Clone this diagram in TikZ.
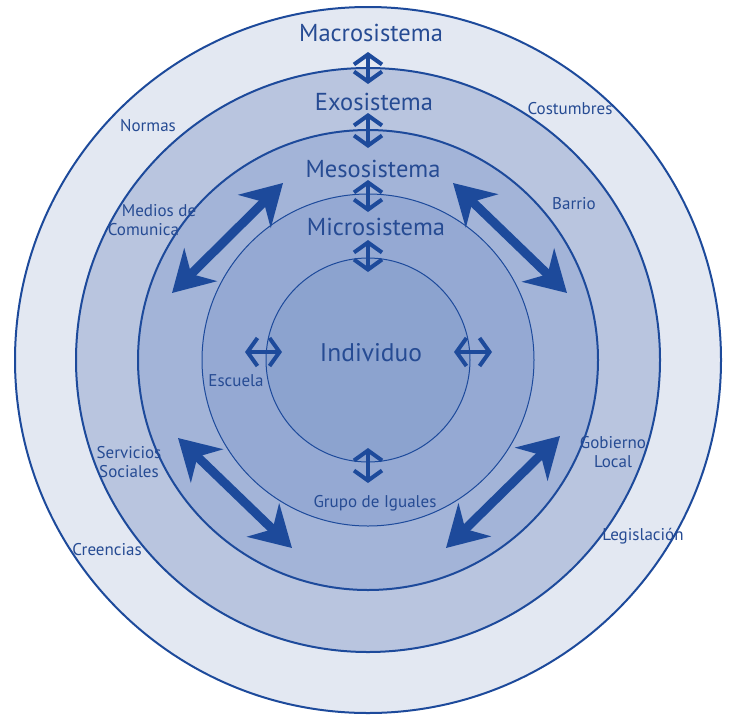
\documentclass[tikz,border=0pt]{standalone}
\usepackage{fontspec}
\setmainfont{PT Sans}
\usetikzlibrary{arrows.meta}
\definecolor{ringline}{HTML}{1D4A9B}
\definecolor{labeltext}{HTML}{264B93}
\definecolor{macroring}{HTML}{E3E8F2}
\definecolor{exoring}{HTML}{B9C5DF}
\definecolor{mesoring}{HTML}{A3B4D8}
\definecolor{microring}{HTML}{95A9D3}
\definecolor{selfring}{HTML}{8CA3CF}
\tikzset{
  biglink/.style={line width=9pt, draw=ringline,
    {Stealth[length=40pt,width=46pt,inset=13pt]}-{Stealth[length=40pt,width=46pt,inset=13pt]}},
  smalllink/.style={line width=4pt, draw=ringline,
    {Straight Barb[length=10pt,width=28pt]}-{Straight Barb[length=10pt,width=28pt]}},
  systemlabel/.style={text=labeltext, inner sep=0pt, font=\fontsize{24.5}{26}\selectfont},
  placelabel/.style={text=labeltext, inner sep=0pt, align=center, font=\fontsize{17}{19.5}\selectfont}
}

\begin{document}
\begin{tikzpicture}[x=1pt, y=-1pt]
  \useasboundingbox (0,0) rectangle (730,715);
  \coordinate (c) at (368,360);

  % rings, outside in
  \foreach \r/\col/\lw in {353/macroring/2pt, 292/exoring/2pt, 230/mesoring/2pt,
                           166/microring/1pt, 102/selfring/1pt}{
    \filldraw[fill=\col, draw=ringline, line width=\lw] (c) circle[radius=\r pt];
  }

  % system names
  \node[systemlabel] (macro) at (371,33) {Macrosistema};
  \node[systemlabel] (exo) at (374,102) {Exosistema};
  \node[systemlabel] (meso) at (373,169) {Mesosistema};
  \node[systemlabel] (micro) at (376,227) {Microsistema};
  \node[systemlabel, font=\fontsize{25.5}{27}\selectfont] (self) at (371,353) {Individuo};

  % places in the rings
  \node[placelabel] (normas) at (148,126) {Normas};
  \node[placelabel] (costumbres) at (570,109) {Costumbres};
  \node[placelabel, align=left] (medios) at (152,220) {\hspace*{14pt}Medios de\\Comunica};
  \node[placelabel] (barrio) at (574,204) {Barrio};
  \node[placelabel] (escuela) at (236,381) {Escuela};
  \node[placelabel] (servicios) at (129,462) {Servicios\\Sociales};
  \node[placelabel] (gobierno) at (613,452) {Gobierno\\Local};
  \node[placelabel] (grupo) at (375,503) {Grupo de Iguales};
  \node[placelabel] (creencias) at (107,550) {Creencias};
  \node[placelabel] (legislacion) at (643,536) {Legislación};

  % end points of the arrows
  \coordinate (v1a) at (368,52);  \coordinate (v1b) at (368,84);
  \coordinate (v2a) at (368,113); \coordinate (v2b) at (368,148);
  \coordinate (v3a) at (368,180); \coordinate (v3b) at (368,212);
  \coordinate (v4a) at (368,240); \coordinate (v4b) at (368,272);
  \coordinate (v5a) at (368,448); \coordinate (v5b) at (368,483);
  \coordinate (h1a) at (245,352); \coordinate (h1b) at (282,352);
  \coordinate (h2a) at (454,352); \coordinate (h2b) at (492,352);

  \coordinate (d1a) at (172,293); \coordinate (d1b) at (283,183);
  \coordinate (d2a) at (453,183); \coordinate (d2b) at (567,293);
  \coordinate (d3a) at (178,438); \coordinate (d3b) at (292,548);
  \coordinate (d4a) at (560,436); \coordinate (d4b) at (446,548);

  \foreach \i in {1,...,5}{
    \draw[smalllink] (v\i a) -- (v\i b);
  }
  \foreach \i in {1,2}{
    \draw[smalllink] (h\i a) -- (h\i b);
  }
  \foreach \i in {1,...,4}{
    \draw[biglink] (d\i a) -- (d\i b);
  }
\end{tikzpicture}
\end{document}
